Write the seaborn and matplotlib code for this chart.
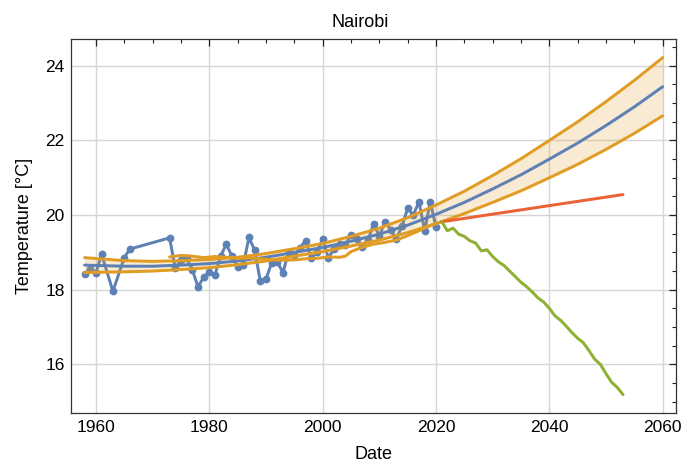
import numpy as np
import pandas as pd
import seaborn as sns
import matplotlib.pyplot as plt
from matplotlib.ticker import MultipleLocator

# Observed annual mean temperatures, Nairobi
obs_years = [1958, 1959, 1960, 1961, 1963, 1965, 1966, 1973, 1974, 1975,
             1976, 1977, 1978, 1979, 1980, 1981, 1982, 1983, 1984, 1985,
             1986, 1987, 1988, 1989, 1990, 1991, 1992, 1993, 1994, 1995,
             1996, 1997, 1998, 1999, 2000, 2001, 2002, 2003, 2004, 2005,
             2006, 2007, 2008, 2009, 2010, 2011, 2012, 2013, 2014, 2015,
             2016, 2017, 2018, 2019, 2020]
obs_temp = [18.42, 18.55, 18.45, 18.95, 17.96, 18.86, 19.09, 19.39, 18.57, 18.81,
            18.84, 18.54, 18.08, 18.33, 18.48, 18.40, 18.90, 19.22, 18.90, 18.62,
            18.66, 19.40, 19.06, 18.24, 18.28, 18.72, 18.74, 18.46, 19.01, 18.92,
            19.13, 19.31, 18.84, 19.01, 19.36, 18.86, 19.08, 19.22, 19.20, 19.48,
            19.35, 19.14, 19.33, 19.77, 19.44, 19.82, 19.61, 19.37, 19.70, 20.18,
            20.00, 20.36, 19.58, 20.36, 19.67]

# Trend fit with its confidence band
fit_years = [1958, 1965, 1970, 1975, 1980, 1985, 1990, 1995, 2000, 2005, 2010,
             2015, 2020, 2025, 2030, 2035, 2040, 2045, 2050, 2055, 2060]
fit_mean = [18.66, 18.63, 18.63, 18.66, 18.70, 18.77, 18.87, 19.00, 19.13, 19.30, 19.49,
            19.73, 20.02, 20.34, 20.70, 21.08, 21.50, 21.93, 22.40, 22.90, 23.44]
fit_upper = [18.86, 18.78, 18.76, 18.78, 18.81, 18.87, 18.97, 19.10, 19.24, 19.43, 19.65,
             19.93, 20.27, 20.64, 21.06, 21.51, 22.00, 22.50, 23.04, 23.61, 24.22]
fit_lower = [18.46, 18.48, 18.50, 18.54, 18.59, 18.67, 18.77, 18.90, 19.02, 19.17, 19.33,
             19.53, 19.77, 20.04, 20.34, 20.65, 21.00, 21.36, 21.76, 22.19, 22.66]

# Smoothed temperature record
smooth_years = [1973, 1975, 1977, 1979, 1981, 1983, 1985, 1987, 1989, 1991, 1993,
                1995, 1997, 1999, 2001, 2003, 2004, 2005, 2007, 2009, 2011, 2013,
                2015, 2017, 2019, 2021]
smooth_temp = [18.88, 18.92, 18.90, 18.86, 18.89, 18.87, 18.84, 18.85, 18.83, 18.80, 18.79,
               18.80, 18.83, 18.84, 18.88, 18.87, 18.90, 19.02, 19.14, 19.22, 19.27, 19.33,
               19.45, 19.58, 19.72, 19.82]

# Linear projection
linear_years = [2021, 2053]
linear_temp = [19.82, 20.55]

# Alternative projection
alt_years = list(range(2021, 2054))
alt_temp = [19.83, 19.58, 19.65, 19.49, 19.43, 19.31, 19.25, 19.04, 19.07, 18.89,
            18.75, 18.65, 18.50, 18.35, 18.20, 18.08, 17.94, 17.78, 17.67, 17.50,
            17.30, 17.18, 17.02, 16.85, 16.70, 16.58, 16.37, 16.14, 16.00, 15.75,
            15.52, 15.38, 15.19]

BLUE = "#5E81B5"
ORANGE = "#E19C24"
GREEN = "#8FB032"
RED = "#EB6235"
LW = 2.15

sns.set_theme(style="white")
plt.rcParams["font.family"] = ["Liberation Sans", "DejaVu Sans"]
plt.rcParams["text.color"] = "black"
plt.rcParams["axes.labelcolor"] = "black"

fig = plt.figure(figsize=(6.85, 4.66), dpi=100)
ax = fig.add_axes([0.1036, 0.1131, 0.8833, 0.8026])

obs = pd.DataFrame({"year": obs_years, "temp": obs_temp})
fit = pd.DataFrame({"year": fit_years, "mean": fit_mean,
                    "upper": fit_upper, "lower": fit_lower})

sns.lineplot(data=obs, x="year", y="temp", ax=ax, color=BLUE, lw=LW,
             marker="o", markersize=5.6, markeredgewidth=0, zorder=2)

ax.fill_between(fit["year"], fit["lower"], fit["upper"], color=ORANGE,
                alpha=0.2, lw=0, zorder=3)
sns.lineplot(data=fit, x="year", y="mean", ax=ax, color=BLUE, lw=LW, zorder=4)
sns.lineplot(data=fit, x="year", y="upper", ax=ax, color=ORANGE, lw=LW, zorder=4)
sns.lineplot(data=fit, x="year", y="lower", ax=ax, color=ORANGE, lw=LW, zorder=4)
sns.lineplot(x=smooth_years, y=smooth_temp, ax=ax, color=ORANGE, lw=LW, zorder=4)
sns.lineplot(x=linear_years, y=linear_temp, ax=ax, color=RED, lw=LW, zorder=4)
sns.lineplot(x=alt_years, y=alt_temp, ax=ax, color=GREEN, lw=LW, zorder=4)

ax.set_xlim(1955.6, 2062.35)
ax.set_ylim(14.69, 24.71)
ax.xaxis.set_major_locator(MultipleLocator(20))
ax.xaxis.set_minor_locator(MultipleLocator(5))
ax.yaxis.set_major_locator(MultipleLocator(2))
ax.yaxis.set_minor_locator(MultipleLocator(0.5))
ax.tick_params(which="both", direction="in", top=True, right=True,
               colors="#222222", labelcolor="black", labelsize=12.5, pad=4.5)
ax.tick_params(which="major", length=5, width=0.9)
ax.tick_params(which="minor", length=3, width=0.8)
ax.grid(True, which="major", color="#d5d5d5", lw=1.0, zorder=0)
ax.set_axisbelow(True)
for s in ax.spines.values():
    s.set_color("#333333")
    s.set_linewidth(0.9)

ax.set_title("Nairobi", fontsize=13, pad=9, color="black", x=0.478)
ax.set_xlabel("Date", fontsize=13, labelpad=8)
ax.set_ylabel("Temperature [°C]", fontsize=13, labelpad=9)

fig.savefig("out.png", dpi=100)
